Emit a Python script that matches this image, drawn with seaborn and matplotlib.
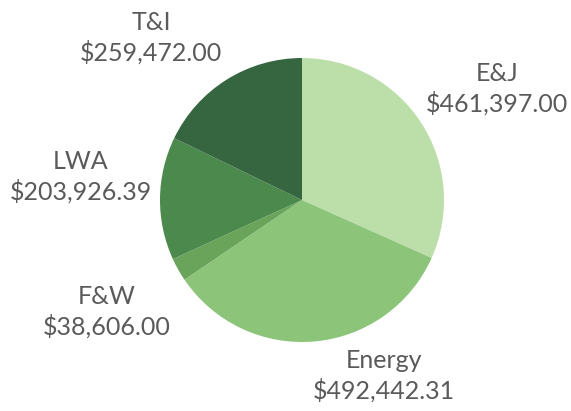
import matplotlib
matplotlib.use("Agg")
import matplotlib.pyplot as plt
import seaborn as sns

# Dados do gráfico (sentido horário a partir do topo)
categorias = ["E&J", "Energy", "F&W", "LWA", "T&I"]
valores = [461397.00, 492442.31, 38606.00, 203926.39, 259472.00]
cores = ["#bcdfaa", "#8cc47a", "#6aa45a", "#4b8a4c", "#356640"]

# Posição do centro de cada rótulo, em pixels (x, y a partir do topo)
pos_rotulos = [(497, 89), (384, 376), (107, 312), (81, 177), (151, 38)]

sns.set_theme(style="white")
plt.rcParams["font.family"] = ["Lato", "DejaVu Sans"]

W, H = 571, 411
fig = plt.figure(figsize=(W / 100, H / 100), dpi=100)

# Pizza com centro em (302, 200) e raio de 142 px
cx, cy, r = 302, 200, 142
ax = fig.add_axes([(cx - r) / W, (H - cy - r) / H, 2 * r / W, 2 * r / H])
ax.pie(valores, colors=cores, startangle=90, counterclock=False,
       wedgeprops=dict(linewidth=0))
ax.set_xlim(-1, 1)
ax.set_ylim(-1, 1)
ax.axis("off")

# Rótulos com nome e valor
for nome, valor, (px, py) in zip(categorias, valores, pos_rotulos):
    fig.text(px / W, 1 - py / H, f"{nome}\n${valor:,.2f}",
             ha="center", va="center", fontsize=18,
             color="#5a5a5a", linespacing=1.3)

fig.savefig("out.png", dpi=100, facecolor="white")
